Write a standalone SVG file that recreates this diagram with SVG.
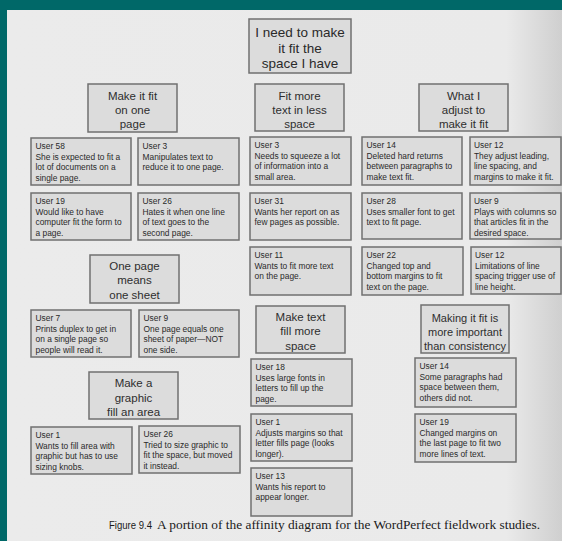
<svg xmlns="http://www.w3.org/2000/svg" width="562" height="541" viewBox="0 0 562 541">
<defs>
<linearGradient id="pg" x1="0" y1="0" x2="1" y2="0">
<stop offset="0" stop-color="#ebebeb"/>
<stop offset="0.9" stop-color="#eaeaea"/>
<stop offset="1" stop-color="#cfcfcf"/>
</linearGradient>
<style>
.box{fill:#dcdcdc;stroke:#707070;stroke-width:1.5}
.h{font-family:"Liberation Sans",Arial,sans-serif;font-size:11.5px;fill:#2e2e2e;text-anchor:middle}
.t{font-family:"Liberation Sans",Arial,sans-serif;font-size:13.5px;fill:#2a2a2a;text-anchor:middle}
.n{font-family:"Liberation Sans",Arial,sans-serif;font-size:8.4px;fill:#2a2a2a}
.cap{font-family:"Liberation Serif","Times New Roman",serif;font-size:12.5px;fill:#1a1a1a}
.capf{font-family:"Liberation Sans",Arial,sans-serif;font-size:11px;fill:#1a1a1a}
</style>
</defs>
<rect x="0" y="0" width="562" height="541" fill="#006868"/>
<rect x="7" y="10" width="555" height="531" fill="url(#pg)"/>
<g id="connectors"/>

<g id="top">
<rect class="box" x="249" y="19" width="102" height="54"/>
<text class="t" x="300" y="37">I need to make</text>
<text class="t" x="300" y="52.5">it fit the</text>
<text class="t" x="300" y="68">space I have</text>
</g>

<g id="h-one-page">
<rect class="box" x="88" y="84" width="89" height="48"/>
<text class="h" x="132.5" y="100">Make it fit</text>
<text class="h" x="132.5" y="114">on one</text>
<text class="h" x="132.5" y="128">page</text>
</g>
<g id="h-more-text">
<rect class="box" x="255" y="84" width="89" height="47"/>
<text class="h" x="299.5" y="100">Fit more</text>
<text class="h" x="299.5" y="113.5">text in less</text>
<text class="h" x="299.5" y="127.5">space</text>
</g>
<g id="h-adjust">
<rect class="box" x="419" y="84" width="89" height="47"/>
<text class="h" x="463.5" y="100">What I</text>
<text class="h" x="463.5" y="113.5">adjust to</text>
<text class="h" x="463.5" y="127.5">make it fit</text>
</g>
<g id="h-one-sheet">
<rect class="box" x="90" y="255" width="89" height="48"/>
<text class="h" x="134.5" y="269.5">One page</text>
<text class="h" x="134.5" y="284">means</text>
<text class="h" x="134.5" y="298.5">one sheet</text>
</g>
<g id="h-fill-space">
<rect class="box" x="256" y="306" width="89" height="47"/>
<text class="h" x="300.5" y="321">Make text</text>
<text class="h" x="300.5" y="335">fill more</text>
<text class="h" x="300.5" y="350">space</text>
</g>
<g id="h-consistency">
<rect class="box" x="421" y="305" width="88" height="48"/>
<text class="h" x="465" y="322" style="font-size:11px">Making it fit is</text>
<text class="h" x="465" y="336" style="font-size:11px">more important</text>
<text class="h" x="465" y="350" style="font-size:11px">than consistency</text>
</g>
<g id="h-graphic">
<rect class="box" x="89" y="372" width="89" height="47"/>
<text class="h" x="133.5" y="387">Make a</text>
<text class="h" x="133.5" y="402">graphic</text>
<text class="h" x="133.5" y="416">fill an area</text>
</g>

<g id="n-u58">
<rect class="box" x="31" y="138" width="100" height="47"/>
<text class="n" x="35.5" y="149">User 58</text>
<text class="n" x="35.5" y="159.5">She is expected to fit a</text>
<text class="n" x="35.5" y="170">lot of documents on a</text>
<text class="n" x="35.5" y="180.5">single page.</text>
</g>
<g id="n-u3a">
<rect class="box" x="138" y="138" width="101" height="47"/>
<text class="n" x="142.5" y="149">User 3</text>
<text class="n" x="142.5" y="159.5">Manipulates text to</text>
<text class="n" x="142.5" y="170">reduce it to one page.</text>
</g>
<g id="n-u19a">
<rect class="box" x="31" y="193" width="100" height="47"/>
<text class="n" x="35.5" y="204">User 19</text>
<text class="n" x="35.5" y="214.5">Would like to have</text>
<text class="n" x="35.5" y="225">computer fit the form to</text>
<text class="n" x="35.5" y="235.5">a page.</text>
</g>
<g id="n-u26a">
<rect class="box" x="138" y="193" width="101" height="47"/>
<text class="n" x="142.5" y="204">User 26</text>
<text class="n" x="142.5" y="214.5">Hates it when one line</text>
<text class="n" x="142.5" y="225">of text goes to the</text>
<text class="n" x="142.5" y="235.5">second page.</text>
</g>
<g id="n-u3b">
<rect class="box" x="250" y="137" width="101" height="48"/>
<text class="n" x="254.5" y="148">User 3</text>
<text class="n" x="254.5" y="158.5">Needs to squeeze a lot</text>
<text class="n" x="254.5" y="169">of information into a</text>
<text class="n" x="254.5" y="179.5">small area.</text>
</g>
<g id="n-u31">
<rect class="box" x="250" y="193" width="101" height="47"/>
<text class="n" x="254.5" y="204">User 31</text>
<text class="n" x="254.5" y="214.5">Wants her report on as</text>
<text class="n" x="254.5" y="225">few pages as possible.</text>
</g>
<g id="n-u11">
<rect class="box" x="250" y="247" width="101" height="48"/>
<text class="n" x="254.5" y="258">User 11</text>
<text class="n" x="254.5" y="268.5">Wants to fit more text</text>
<text class="n" x="254.5" y="279">on the page.</text>
</g>
<g id="n-u14a">
<rect class="box" x="362" y="137" width="100" height="48"/>
<text class="n" x="366.5" y="148">User 14</text>
<text class="n" x="366.5" y="158.5">Deleted hard returns</text>
<text class="n" x="366.5" y="169">between paragraphs to</text>
<text class="n" x="366.5" y="179.5">make text fit.</text>
</g>
<g id="n-u12a">
<rect class="box" x="470" y="137" width="91" height="48"/>
<text class="n" x="474" y="148">User 12</text>
<text class="n" x="474" y="158.5">They adjust leading,</text>
<text class="n" x="474" y="169">line spacing, and</text>
<text class="n" x="474" y="179.5">margins to make it fit.</text>
</g>
<g id="n-u28">
<rect class="box" x="362" y="193" width="100" height="46"/>
<text class="n" x="366.5" y="204">User 28</text>
<text class="n" x="366.5" y="214.5">Uses smaller font to get</text>
<text class="n" x="366.5" y="225">text to fit page.</text>
</g>
<g id="n-u9a">
<rect class="box" x="470" y="193" width="91" height="46"/>
<text class="n" x="474" y="204">User 9</text>
<text class="n" x="474" y="214.5">Plays with columns so</text>
<text class="n" x="474" y="225">that articles fit in the</text>
<text class="n" x="474" y="235.5">desired space.</text>
</g>
<g id="n-u22">
<rect class="box" x="362" y="247" width="101" height="48"/>
<text class="n" x="366.5" y="258">User 22</text>
<text class="n" x="366.5" y="268.5">Changed top and</text>
<text class="n" x="366.5" y="279">bottom margins to fit</text>
<text class="n" x="366.5" y="289.5">text on the page.</text>
</g>
<g id="n-u12b">
<rect class="box" x="471" y="247" width="90" height="47"/>
<text class="n" x="475" y="258">User 12</text>
<text class="n" x="475" y="268.5">Limitations of line</text>
<text class="n" x="475" y="279">spacing trigger use of</text>
<text class="n" x="475" y="289.5">line height.</text>
</g>
<g id="n-u7">
<rect class="box" x="31" y="310" width="100" height="47"/>
<text class="n" x="35.5" y="321">User 7</text>
<text class="n" x="35.5" y="331.5">Prints duplex to get in</text>
<text class="n" x="35.5" y="342">on a single page so</text>
<text class="n" x="35.5" y="352.5">people will read it.</text>
</g>
<g id="n-u9b">
<rect class="box" x="139" y="310" width="100" height="47"/>
<text class="n" x="143.5" y="321">User 9</text>
<text class="n" x="143.5" y="331.5">One page equals one</text>
<text class="n" x="143.5" y="342">sheet of paper—NOT</text>
<text class="n" x="143.5" y="352.5">one side.</text>
</g>
<g id="n-u18">
<rect class="box" x="251" y="359" width="101" height="47"/>
<text class="n" x="255.5" y="370">User 18</text>
<text class="n" x="255.5" y="380.5">Uses large fonts in</text>
<text class="n" x="255.5" y="391">letters to fill up the</text>
<text class="n" x="255.5" y="401.5">page.</text>
</g>
<g id="n-u14b">
<rect class="box" x="415" y="358" width="101" height="49"/>
<text class="n" x="419.5" y="369">User 14</text>
<text class="n" x="419.5" y="379.5">Some paragraphs had</text>
<text class="n" x="419.5" y="390">space between them,</text>
<text class="n" x="419.5" y="400.5">others did not.</text>
</g>
<g id="n-u1b">
<rect class="box" x="251" y="414" width="101" height="47"/>
<text class="n" x="255.5" y="425">User 1</text>
<text class="n" x="255.5" y="435.5">Adjusts margins so that</text>
<text class="n" x="255.5" y="446">letter fills page (looks</text>
<text class="n" x="255.5" y="456.5">longer).</text>
</g>
<g id="n-u19b">
<rect class="box" x="415" y="414" width="101" height="48"/>
<text class="n" x="419.5" y="425">User 19</text>
<text class="n" x="419.5" y="435.5">Changed margins on</text>
<text class="n" x="419.5" y="446">the last page to fit two</text>
<text class="n" x="419.5" y="456.5">more lines of text.</text>
</g>
<g id="n-u1a">
<rect class="box" x="31" y="427" width="101" height="47"/>
<text class="n" x="35.5" y="438">User 1</text>
<text class="n" x="35.5" y="448.5">Wants to fill area with</text>
<text class="n" x="35.5" y="459">graphic but has to use</text>
<text class="n" x="35.5" y="469.5">sizing knobs.</text>
</g>
<g id="n-u26b">
<rect class="box" x="139" y="426" width="101" height="47"/>
<text class="n" x="143.5" y="437">User 26</text>
<text class="n" x="143.5" y="447.5">Tried to size graphic to</text>
<text class="n" x="143.5" y="458">fit the space, but moved</text>
<text class="n" x="143.5" y="468.5">it instead.</text>
</g>
<g id="n-u13">
<rect class="box" x="251" y="468" width="101" height="48"/>
<text class="n" x="255.5" y="479">User 13</text>
<text class="n" x="255.5" y="489.5">Wants his report to</text>
<text class="n" x="255.5" y="500">appear longer.</text>
</g>

<g id="caption">
<text class="capf" x="109" y="529" textLength="43" lengthAdjust="spacingAndGlyphs">Figure 9.4</text>
<text class="cap" x="157" y="529" textLength="383" lengthAdjust="spacingAndGlyphs">A portion of the affinity diagram for the WordPerfect fieldwork studies.</text>
</g>
</svg>
